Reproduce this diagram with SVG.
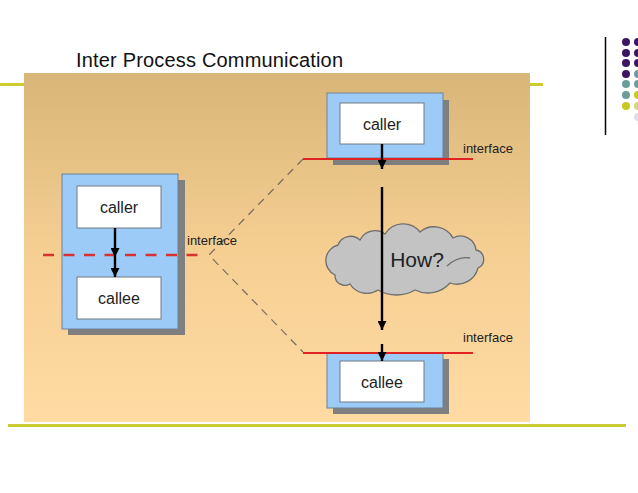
<svg xmlns="http://www.w3.org/2000/svg" width="638" height="493" viewBox="0 0 638 493">
<defs>
<linearGradient id="bg" x1="0" y1="0" x2="0" y2="1">
<stop offset="0" stop-color="#D8B678"/>
<stop offset="0.5" stop-color="#F5CE92"/>
<stop offset="1" stop-color="#FFDBA3"/>
</linearGradient>
<marker id="ah" viewBox="0 0 10 10" refX="10" refY="5" markerUnits="userSpaceOnUse" markerWidth="11" markerHeight="9" orient="auto">
<path d="M0,0 L10,5 L0,10 z" fill="#000"/>
</marker>
<style>
.shadow{fill:#7F7F7F}
.blue{fill:#9CCBF7;stroke:#6F8296;stroke-width:1}
.inner{fill:#FFFFFF;stroke:#6F7B86;stroke-width:1}
.lbl{font-family:"Liberation Sans",Arial,sans-serif;font-size:16px;fill:#222;text-anchor:middle}
.ifc{font-family:"Liberation Sans",Arial,sans-serif;font-size:13px;fill:#222}
.arr{stroke:#000;stroke-width:2.4;fill:none}
.red{stroke:#E02222;stroke-width:2}
.dot{stroke:none}
</style>
</defs>
<rect width="638" height="493" fill="#FFFFFF"/>
<g id="slide-decor">
<line x1="0" y1="84.5" x2="543" y2="84.5" stroke="#CCCC2E" stroke-width="3"/>
<line x1="8" y1="425.5" x2="626" y2="425.5" stroke="#C8CC30" stroke-width="3"/>
<line x1="605.5" y1="37" x2="605.5" y2="135" stroke="#000" stroke-width="1.5"/>
<circle class="dot" cx="626" cy="42" r="4" fill="#3D1560"/>
<circle class="dot" cx="626" cy="53" r="4" fill="#3D1560"/>
<circle class="dot" cx="626" cy="63" r="4" fill="#3D1560"/>
<circle class="dot" cx="626" cy="74" r="4" fill="#3D1560"/>
<circle class="dot" cx="626" cy="84" r="4" fill="#6C9C9C"/>
<circle class="dot" cx="626" cy="95" r="4" fill="#6C9C9C"/>
<circle class="dot" cx="626" cy="106" r="4" fill="#C8C820"/>
<circle class="dot" cx="638" cy="42" r="4" fill="#3D1560"/>
<circle class="dot" cx="638" cy="53" r="4" fill="#3D1560"/>
<circle class="dot" cx="638" cy="63" r="4" fill="#3D1560"/>
<circle class="dot" cx="638" cy="74" r="4" fill="#6C9C9C"/>
<circle class="dot" cx="638" cy="84" r="4" fill="#6C9C9C"/>
<circle class="dot" cx="638" cy="95" r="4" fill="#C8C820"/>
<circle class="dot" cx="638" cy="106" r="4" fill="#D6D680"/>
<circle class="dot" cx="638" cy="117" r="4" fill="#DCDCEE"/>
<text x="76" y="67" font-family="Liberation Sans, Arial, sans-serif" font-size="20" fill="#111" textLength="267">Inter Process Communication</text>
</g>
<rect id="background" x="24" y="73" width="506" height="349" fill="url(#bg)"/>
<g id="left-process">
<rect class="shadow" x="68" y="180" width="117" height="155"/>
<rect class="blue" x="62" y="174" width="116" height="155"/>
</g>
<g id="left-caller">
<rect class="inner" x="77" y="186" width="84" height="42"/>
<text class="lbl" x="119" y="213">caller</text>
</g>
<g id="left-callee">
<rect class="inner" x="77" y="277" width="84" height="42"/>
<text class="lbl" x="119" y="304">callee</text>
</g>
<g id="right-caller-process">
<rect class="shadow" x="333" y="100" width="116" height="65"/>
<rect class="blue" x="327" y="93" width="116" height="65"/>
<rect class="inner" x="340" y="103" width="84" height="41"/>
<text class="lbl" x="382" y="130">caller</text>
</g>
<g id="right-callee-process">
<rect class="shadow" x="333" y="359" width="116" height="55"/>
<rect class="blue" x="327" y="353" width="116" height="55"/>
<rect class="inner" x="340" y="361" width="84" height="41"/>
<text class="lbl" x="382" y="388">callee</text>
</g>
<g id="cloud">
<path d="M335,275 A16,16 0 0 1 338,245 A13.6,13.6 0 0 1 360,240 A16.8,16.8 0 0 1 385,234 A21.5,21.5 0 0 1 420,232 A21.6,21.6 0 0 1 453,238 A15.6,15.6 0 0 1 476,250 A9.5,9.5 0 0 1 478,268 A21.6,21.6 0 0 1 450,283 A29.5,29.5 0 0 1 415,290 A36.7,36.7 0 0 1 378,290 A20,20 0 0 1 350,284 A10,10 0 0 1 335,275 Z" fill="#C3C3C3" stroke="#6E6E6E" stroke-width="1.3"/>
<path d="M447,266 Q458,256 470,258" fill="none" stroke="#6E6E6E" stroke-width="1.3"/>
<text x="417" y="267" font-family="Liberation Sans, Arial, sans-serif" font-size="21" fill="#222" text-anchor="middle">How?</text>
</g>
<g id="connectors">
<line x1="43" y1="255" x2="204" y2="255" stroke="#D93030" stroke-width="2.5" stroke-dasharray="11 9.5"/>
<polyline class="arr" points="115,228 115,257 115,277" marker-mid="url(#ah)" marker-end="url(#ah)"/>
<polyline points="303,159 209,255 303,352" fill="none" stroke="#7A6E5E" stroke-width="1.2" stroke-dasharray="8 6"/>
<line class="red" x1="303" y1="159" x2="473" y2="159"/>
<line class="red" x1="303" y1="353" x2="473" y2="353"/>
<line class="arr" x1="382" y1="144" x2="382" y2="169" marker-end="url(#ah)"/>
<line class="arr" x1="382" y1="187" x2="382" y2="330" marker-end="url(#ah)"/>
<line class="arr" x1="382" y1="344" x2="382" y2="361" marker-end="url(#ah)"/>
<text class="ifc" x="187" y="245">interface</text>
<text class="ifc" x="463" y="153">interface</text>
<text class="ifc" x="463" y="342">interface</text>
</g>
</svg>
